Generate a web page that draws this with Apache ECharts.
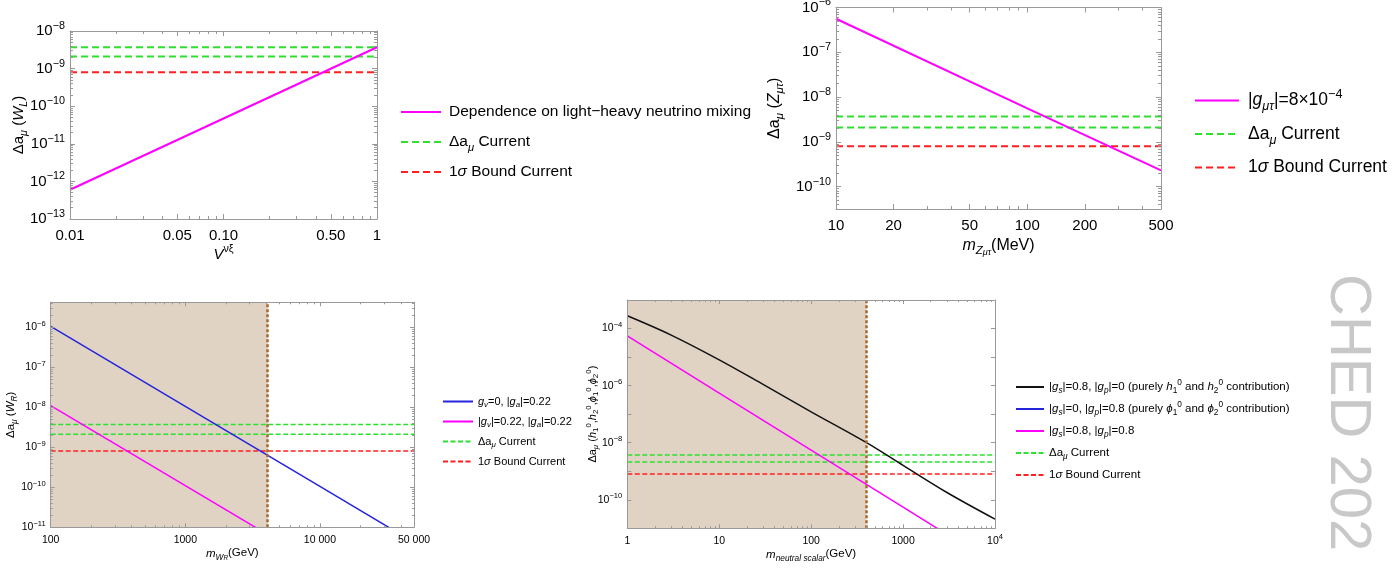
<!DOCTYPE html>
<html>
<head>
<meta charset="UTF-8">
<title></title>
<style>
html,body{margin:0;height:100%;background:#fff;}
#chart{width:1392px;height:570px;}
</style>
</head>
<body>
<div id="chart"></div>
<script src="https://cdn.jsdelivr.net/npm/echarts@6.0.0/dist/echarts.min.js"></script>
<script>
// Δa_mu band, same in every panel
var bandCurrent = [3.7e-9, 2.1e-9];
var bandSigma = [8.0e-10];

// top left: W_L against light-heavy mixing
var mixV = [0.01, 0.1, 1];
var mixDa = [6.0e-13, 4.7e-11, 3.7e-9];
var p1XTicks = [0.01, 0.05, 0.1, 0.5, 1];
var p1XText = ['0.01', '0.05', '0.10', '0.50', '1'];
var p1YExp = [-13, -12, -11, -10, -9, -8];

// top right: Z_mu tau
var zMass = [10, 100, 500];
var zDa = [5.6e-7, 5.6e-9, 2.3e-10];
var p2XTicks = [10, 20, 50, 100, 200, 500];
var p2XText = ['10', '20', '50', '100', '200', '500'];
var p2YExp = [-10, -9, -8, -7, -6];

// bottom left: W_R
var wrMass = [100, 1000, 10000, 50000];
var wrAxial = [1.05e-6, 1.05e-8, 1.05e-10, 4.2e-12];
var wrBoth = [1.1e-8, 1.1e-10, 1.1e-12, 4.4e-14];
var wrExcluded = [100, 4100];
var p3XTicks = [100, 1000, 10000, 50000];
var p3XText = ['100', '1000', '10 000', '50 000'];
var p3YExp = [-11, -10, -9, -8, -7, -6];

// bottom right: neutral scalars
var hMass = [1, 3, 10, 30, 100, 400, 1000, 3000, 10000];
var hScalar = [2.8e-4, 5.9e-5, 8.0e-6, 1.1e-6, 1.2e-7, 1.0e-8, 1.6e-9, 1.8e-10, 2.1e-11];
var hMixMass = [1, 10, 100, 1000, 10000];
var hMix = [5.5e-5, 5.5e-7, 5.5e-9, 5.5e-11, 5.5e-13];
var hPseudo = [];
var hExcluded = [1, 400];
var p4XTicks = [1, 10, 100, 1000, 10000];
var p4XText = ['1', '10', '100', '1000', '10^4'];
var p4YExp = [-11, -10, -9, -8, -7, -6, -5, -4, -3];
var p4YLabelExp = [-10, -8, -6, -4];

var LG = Math.log10;
var FONT = '"Liberation Sans", Arial, sans-serif';
var FRAME = '#999999';
var GREEN = '#2fe02f', RED = '#ff2020', MAGENTA = '#ff00ff', BLUE = '#2424dc', BLACK = '#111111';
var SHADE = '#e0d3c4', BROWN = '#a5682c';

var legendText = {
  wl: '{t|Dependence on light\u2212heavy neutrino mixing}',
  c1: '{t|Δa}{isb|μ}{t| Current}',
  s1: '{t|1}{it|σ}{t| Bound Current}',
  zmt: '{t||}{it|g}{isb|μτ}{t||=8×10}{sp|\u22124}',
  c2: '{t|Δa}{isb|μ}{t| Current}',
  s2: '{t|1}{it|σ}{t| Bound Current}',
  wa: '{it|g}{isb|v}{t|=0, |}{it|g}{isb|a}{t||=0.22}',
  wb: '{t||}{it|g}{isb|v}{t||=0.22, |}{it|g}{isb|a}{t||=0.22}',
  c3: '{t|Δa}{isb|μ}{t| Current}',
  s3: '{t|1}{it|σ}{t| Bound Current}',
  hs: '{t||}{it|g}{isb|s}{t||=0.8, |}{it|g}{isb|p}{t||=0 (purely }{it|h}{sb|1}{sp|0}{t| and }{it|h}{sb|2}{sp|0}{t| contribution)}',
  hp: '{t||}{it|g}{isb|s}{t||=0, |}{it|g}{isb|p}{t||=0.8 (purely }{it|ϕ}{sb|1}{sp|0}{t| and }{it|ϕ}{sb|2}{sp|0}{t| contribution)}',
  hm: '{t||}{it|g}{isb|s}{t||=0.8, |}{it|g}{isb|p}{t||=0.8}',
  c4: '{t|Δa}{isb|μ}{t| Current}',
  s4: '{t|1}{it|σ}{t| Bound Current}'
};

function richSet(fs) {
  var lh = Math.round(fs * 1.4);
  var s = Math.round(fs * 0.72 * 10) / 10;
  var ss = Math.round(fs * 0.56 * 10) / 10;
  function st(o) { return Object.assign({fontFamily: FONT, color: '#000'}, o); }
  return {
    t: st({fontSize: fs, lineHeight: lh}),
    b: st({fontSize: fs, lineHeight: lh}),
    it: st({fontSize: fs, lineHeight: lh, fontStyle: 'italic'}),
    sb: st({fontSize: s, lineHeight: s, verticalAlign: 'bottom'}),
    isb: st({fontSize: s, lineHeight: s, verticalAlign: 'bottom', fontStyle: 'italic'}),
    ssb: st({fontSize: ss, lineHeight: ss * 0.5, verticalAlign: 'bottom', fontStyle: 'italic'}),
    sp: st({fontSize: s, lineHeight: s, verticalAlign: 'top'}),
    p: st({fontSize: s, lineHeight: s, verticalAlign: 'top'})
  };
}

function expText(list) {
  return list.map(function (e) { return '10^' + (e < 0 ? '\u2212' + (-e) : e); });
}
function expVal(list) {
  return list.map(function (e) { return Math.pow(10, e); });
}
function tickText(s) {
  var k = s.indexOf('^');
  if (k < 0) return '{b|' + s + '}';
  return '{b|' + s.slice(0, k) + '}{p|' + s.slice(k + 1) + '}';
}
// 2..9 per decade, without the labelled ones
function minors(lo, hi, majors) {
  var out = [];
  for (var e = Math.floor(LG(lo)); e < Math.ceil(LG(hi)); e++) {
    for (var m = 2; m <= 9; m++) {
      var v = m * Math.pow(10, e);
      if (v <= lo || v >= hi) continue;
      var hit = majors.some(function (mj) { return Math.abs(LG(mj) - LG(v)) < 1e-6; });
      if (!hit) out.push(v);
    }
  }
  return out;
}
function pairs(xs, ys) {
  var res = [];
  for (var i = 0; i < xs.length; i++) res.push([LG(xs[i]), LG(ys[i])]);
  return res;
}

var chart = echarts.init(document.getElementById('chart'));
var option = {animation: false, backgroundColor: '#fff', grid: [], xAxis: [], yAxis: [], legend: [], series: [], graphic: []};

function addAxes(gi, dim, a) {
  var list = dim === 'x' ? option.xAxis : option.yAxis;
  var sides = dim === 'x' ? ['bottom', 'top'] : ['left', 'right'];
  var first = list.length;
  var vals = a.labels.map(LG);
  for (var s = 0; s < 2; s++) {
    for (var t = 0; t < 2; t++) {
      var main = s === 0 && t === 0;
      var ticks = (t === 0 ? a.major : a.minor).map(LG);
      list.push({
        type: 'value', gridIndex: gi, position: sides[s], min: LG(a.range[0]), max: LG(a.range[1]), z: 6,
        splitLine: {show: false},
        axisLine: {show: t === 0, onZero: false, lineStyle: {color: FRAME, width: 1}},
        axisTick: {show: ticks.length > 0, inside: true, length: t === 0 ? a.tick : Math.round(a.tick * 0.55),
          customValues: ticks, lineStyle: {color: FRAME, width: 1}},
        axisLabel: main ? {
          show: true, customValues: vals, margin: a.margin, color: '#000', fontFamily: FONT, fontSize: a.fs,
          rich: richSet(a.fs),
          formatter: function (v) {
            var k = 0;
            for (var i = 1; i < vals.length; i++) {
              if (Math.abs(vals[i] - v) < Math.abs(vals[k] - v)) k = i;
            }
            return tickText(a.text[k]);
          }
        } : {show: false},
        name: main ? a.name : '',
        nameLocation: 'middle', nameGap: a.gap, nameRotate: dim === 'y' ? 90 : 0, nameMoveOverlap: false,
        nameTextStyle: {fontSize: a.nameFs, fontFamily: FONT, color: '#000', rich: richSet(a.nameFs)}
      });
    }
  }
  return first;
}

function addPanel(p) {
  var gi = option.grid.length;
  option.grid.push({left: p.box[0], top: p.box[1], width: p.box[2], height: p.box[3],
    containLabel: false, outerBoundsMode: 'none', show: false});
  var xi = addAxes(gi, 'x', p.x);
  var yi = addAxes(gi, 'y', p.y);
  var names = [];
  if (p.shade) {
    option.series.push({
      type: 'line', xAxisIndex: xi, yAxisIndex: yi, data: [], z: 1, silent: true,
      markArea: {silent: true, itemStyle: {color: SHADE}, data: [[{xAxis: LG(p.shade[0])}, {xAxis: LG(p.shade[1])}]]},
      markLine: {silent: true, symbol: ['none', 'none'], label: {show: false},
        lineStyle: {color: BROWN, width: 2.5, type: [3, 2]},
        emphasis: {disabled: true}, data: [{xAxis: LG(p.shade[1])}]}
    });
  }
  p.lines.forEach(function (l) {
    names.push(l.name);
    option.series.push({
      name: l.name, type: 'line', xAxisIndex: xi, yAxisIndex: yi, data: pairs(l.xs, l.ys),
      symbol: 'none', showSymbol: false, silent: true, z: 4, smooth: l.smooth || false,
      lineStyle: {color: l.color, width: p.lw}, itemStyle: {color: l.color}
    });
  });
  // horizontal Δa_mu levels across the whole mass range
  var xr = p.x.range;
  [[p.band[0], bandCurrent, GREEN], [p.band[1], bandSigma, RED]].forEach(function (b) {
    names.push(b[0]);
    b[1].forEach(function (v) {
      option.series.push({
        name: b[0], type: 'line', xAxisIndex: xi, yAxisIndex: yi, data: pairs(xr, [v, v]),
        symbol: 'none', showSymbol: false, silent: true, z: 3,
        lineStyle: {color: b[2], width: p.bw, type: p.dash.slice()}, itemStyle: {color: b[2]}
      });
    });
  });
  var L = p.legend;
  option.legend.push({
    left: L.left, top: L.top, orient: 'vertical', padding: 0, itemGap: L.gap, itemWidth: L.w, itemHeight: 10,
    selectedMode: false, data: names, itemStyle: {opacity: 0},
    formatter: function (n) { return legendText[n]; },
    textStyle: {fontSize: L.fs, lineHeight: Math.round(L.fs * 1.4), color: '#000', fontFamily: FONT,
      rich: richSet(L.fs), padding: [0, 0, 0, L.pad || 0]}
  });
}

addPanel({
  box: [70, 31, 307, 188], lw: 2, bw: 2, dash: [7, 4],
  x: {range: [0.01, 1], major: p1XTicks, minor: minors(0.01, 1, p1XTicks), labels: p1XTicks, text: p1XText,
    fs: 15, tick: 5, margin: 6, name: '{it|V}{sp|νξ}', gap: 25, nameFs: 15},
  y: {range: [1e-13, 1e-8], major: expVal(p1YExp), minor: minors(1e-13, 1e-8, []), labels: expVal(p1YExp),
    text: expText(p1YExp), fs: 15, tick: 5, margin: 5,
    name: '{t|Δa}{isb|μ}{t| (}{it|W}{isb|L}{t|)}', gap: 41, nameFs: 15},
  lines: [{name: 'wl', xs: mixV, ys: mixDa, color: MAGENTA}],
  band: ['c1', 's1'],
  legend: {left: 400, top: 101, gap: 8, w: 40, fs: 15.5, pad: 3}
});

addPanel({
  box: [836, 7.5, 325, 201.5], lw: 2, bw: 2, dash: [7, 4],
  x: {range: [10, 500], major: p2XTicks, minor: minors(10, 500, p2XTicks), labels: p2XTicks, text: p2XText,
    fs: 15, tick: 5, margin: 6, name: '{it|m}{isb|Z}{ssb|μτ}{t|(MeV)}', gap: 26, nameFs: 16},
  y: {range: [Math.pow(10, -10.5), 1e-6], major: expVal(p2YExp), minor: minors(Math.pow(10, -10.5), 1e-6, []),
    labels: expVal(p2YExp), text: expText(p2YExp), fs: 15, tick: 5, margin: 5,
    name: '{t|Δa}{isb|μ}{t| (}{it|Z}{isb|μτ}{t|)}', gap: 50, nameFs: 16},
  lines: [{name: 'zmt', xs: zMass, ys: zDa, color: MAGENTA}],
  band: ['c2', 's2'],
  legend: {left: 1194, top: 88, gap: 8.5, w: 44, fs: 17.5, pad: 4}
});

addPanel({
  box: [50.7, 302.3, 363.3, 225], lw: 1.5, bw: 1.5, dash: [5, 2.5], shade: wrExcluded,
  x: {range: [100, 50000], major: p3XTicks, minor: minors(100, 50000, p3XTicks), labels: p3XTicks, text: p3XText,
    fs: 10.5, tick: 4, margin: 5, name: '{it|m}{isb|W}{ssb|R}{t|(GeV)}', gap: 18, nameFs: 11.5},
  y: {range: [1e-11, Math.pow(10, -5.38)], major: expVal(p3YExp), minor: minors(1e-11, Math.pow(10, -5.38), []),
    labels: expVal(p3YExp), text: expText(p3YExp), fs: 10.5, tick: 4, margin: 5,
    name: '{t|Δa}{isb|μ}{t| (}{it|W}{isb|R}{t|)}', gap: 32, nameFs: 11.5},
  lines: [
    {name: 'wa', xs: wrMass, ys: wrAxial, color: BLUE},
    {name: 'wb', xs: wrMass, ys: wrBoth, color: MAGENTA}
  ],
  band: ['c3', 's3'],
  legend: {left: 442, top: 394, gap: 5, w: 30, fs: 11}
});

addPanel({
  box: [627.3, 300, 367.7, 228.3], lw: 1.5, bw: 1.5, dash: [5, 2.5], shade: hExcluded,
  x: {range: [1, 10000], major: p4XTicks, minor: minors(1, 10000, p4XTicks), labels: p4XTicks, text: p4XText,
    fs: 10.5, tick: 4, margin: 5, name: '{it|m}{isb|neutral scalar}{t|(GeV)}', gap: 18, nameFs: 11.5},
  y: {range: [1e-11, 1e-3], major: expVal(p4YExp), minor: [], labels: expVal(p4YLabelExp),
    text: expText(p4YLabelExp), fs: 10.5, tick: 4, margin: 5,
    name: '{t|Δa}{isb|μ}{t| (}{it|h}{sb|1}{sp|0}{t|,}{it|h}{sb|2}{sp|0}{t|,}{it|ϕ}{sb|1}{sp|0}{t|,}{it|ϕ}{sb|2}{sp|0}{t|)}',
    gap: 27, nameFs: 11},
  lines: [
    {name: 'hs', xs: hMass, ys: hScalar, color: BLACK, smooth: 0.35},
    {name: 'hp', xs: hPseudo, ys: hPseudo, color: BLUE},
    {name: 'hm', xs: hMixMass, ys: hMix, color: MAGENTA}
  ],
  band: ['c4', 's4'],
  legend: {left: 1015, top: 379, gap: 6, w: 28, fs: 11.5}
});

// grey stamp cut off at the right edge
option.graphic.push({
  type: 'text', x: 1347, y: 274, rotation: -Math.PI / 2, silent: true,
  style: {text: 'CHED 202', fontSize: 58, fontFamily: FONT, fill: '#c8c8c8', align: 'left', verticalAlign: 'middle'}
});

chart.setOption(option);
</script>
</body>
</html>
